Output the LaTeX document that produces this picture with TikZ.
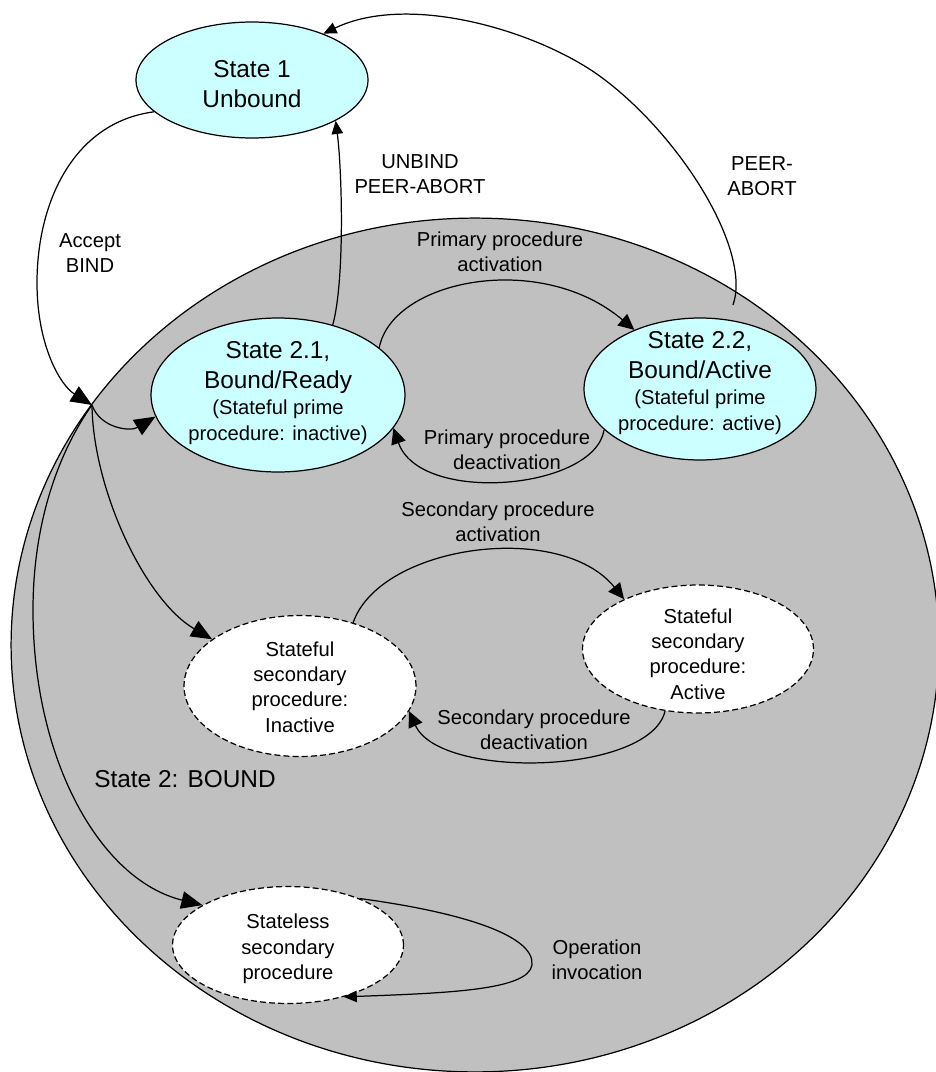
\documentclass[tikz,border=0pt]{standalone}
\usepackage{fontspec}
\setmainfont{Liberation Sans}
\usetikzlibrary{shapes.geometric,arrows.meta}
\definecolor{boundgrey}{HTML}{C0C0C0}
\definecolor{statecyan}{HTML}{CCFFFF}
\newcommand\bigtxt{\fontsize{13.9pt}{17.4pt}\selectfont}
\newcommand\smalltxt{\fontsize{11.5pt}{14.4pt}\selectfont}

\begin{document}
\begin{tikzpicture}[x=0.02cm,y=-0.02cm,
  line width=0.7pt,
  region/.style={ellipse,draw,fill=boundgrey,inner sep=0pt},
  mainstate/.style={ellipse,draw,fill=statecyan,inner sep=0pt},
  substate/.style={ellipse,draw,fill=white,dash pattern=on 3.4pt off 1.8pt,inner sep=0pt},
  nodetext/.style={align=center,inner sep=0pt,font=\smalltxt},
  bignodetext/.style={align=center,inner sep=0pt,font=\bigtxt},
  edgelabel/.style={align=center,inner sep=0pt,font=\smalltxt},
  bigtip/.style={-{Triangle[length=12pt,width=10pt]}},
  midtip/.style={-{Triangle[length=9pt,width=8.5pt]}},
  smalltip/.style={-{Triangle[length=7.5pt,width=6.5pt]}},
]
\useasboundingbox (0,0) rectangle (936,1072);
\clip (0,0) rectangle (936,1072);

% the BOUND super-state
\node[region, minimum width=18.56cm, minimum height=17.08cm] (bound) at (475,645) {};

% states
\node[mainstate, minimum width=4.64cm, minimum height=2.32cm] (s1)  at (252,80)  {};
\node[mainstate, minimum width=5.08cm, minimum height=3.08cm] (s21) at (278,395) {};
\node[mainstate, minimum width=4.64cm, minimum height=2.84cm] (s22) at (700,389) {};
\node[substate,  minimum width=4.64cm, minimum height=2.82cm] (sfi) at (300,686) {};
\node[substate,  minimum width=4.62cm, minimum height=2.56cm] (sfa) at (698,649) {};
\node[substate,  minimum width=4.62cm, minimum height=2.34cm] (sl)  at (288,945) {};

% state texts
\node[bignodetext] (s1txt) at (252,84) {State 1\\Unbound};
\node[nodetext] (s21txt) at (278,393)
  {\bigtxt State 2.1,\\[2.6pt]\bigtxt Bound/Ready\\[0.9pt](Stateful prime\\[0.3pt]procedure: inactive)};
\node[nodetext] (s22txt) at (700,383)
  {\bigtxt State 2.2,\\[2.6pt]\bigtxt Bound/Active\\[0.9pt](Stateful prime\\[0.3pt]procedure: active)};
\node[nodetext] (sfitxt) at (300,687) {Stateful\\secondary\\procedure:\\Inactive};
\node[nodetext] (sfatxt) at (698,654) {Stateful\\secondary\\procedure:\\Active};
\node[nodetext] (sltxt)  at (288,949) {Stateless\\secondary\\procedure};

% junction on the BOUND border and detached start of the abort line
\coordinate (j)  at (92,405);
\coordinate (pa) at (733,305);

% transitions
\draw[bigtip] (s1.198) .. controls (75,122) and (37,200) .. (37,283)
  .. controls (37,345) and (60,385) .. (j);
\draw[bigtip] (j) .. controls (100,428) and (130,432) .. (s21.190);
\draw[bigtip] (j) .. controls (93,490) and (145,600) .. (sfi.152);
\draw[bigtip] (j) .. controls (60,450) and (33,520) .. (33,610)
  .. controls (33,760) and (100,880) .. (sl.155);
\draw[smalltip] (s21.52) .. controls (345,280) and (342,170) .. (s1.334);
\draw[smalltip] (pa) .. controls (752,250) and (680,135) .. (601,77)
  .. controls (540,32) and (410,-8) .. (s1.33);
\draw[midtip] (s21.25) .. controls (392,280) and (540,250) .. (s22.138);
\draw[midtip] (s22.203) .. controls (595,490) and (420,505) .. (s21.344);
\draw[midtip] (sfi.50) .. controls (380,545) and (560,520) .. (sfa.146);
\draw[midtip] (sfa.242) .. controls (650,775) and (440,780) .. (sfi.347);
\draw[smalltip] (sl.33) .. controls (460,912) and (535,935) .. (532,965)
  .. controls (528,990) and (450,993) .. (sl.317);

% transition labels
\node[edgelabel] (lbind)   at (90,253)  {Accept\\BIND};
\node[edgelabel] (lunbind) at (420,174) {UNBIND\\PEER-ABORT};
\node[edgelabel] (labort)  at (762,176) {PEER-\\ABORT};
\node[edgelabel] (lpact)   at (500,252) {Primary procedure\\activation};
\node[edgelabel] (lpdeact) at (507,450) {Primary procedure\\deactivation};
\node[edgelabel] (lsact)   at (498,522) {Secondary procedure\\activation};
\node[edgelabel] (lsdeact) at (534,730) {Secondary procedure\\deactivation};
\node[edgelabel] (lop)     at (597,960) {Operation\\invocation};
\node[font=\bigtxt, inner sep=0pt] (lbound) at (185,779) {State 2: BOUND};

\end{tikzpicture}
\end{document}
